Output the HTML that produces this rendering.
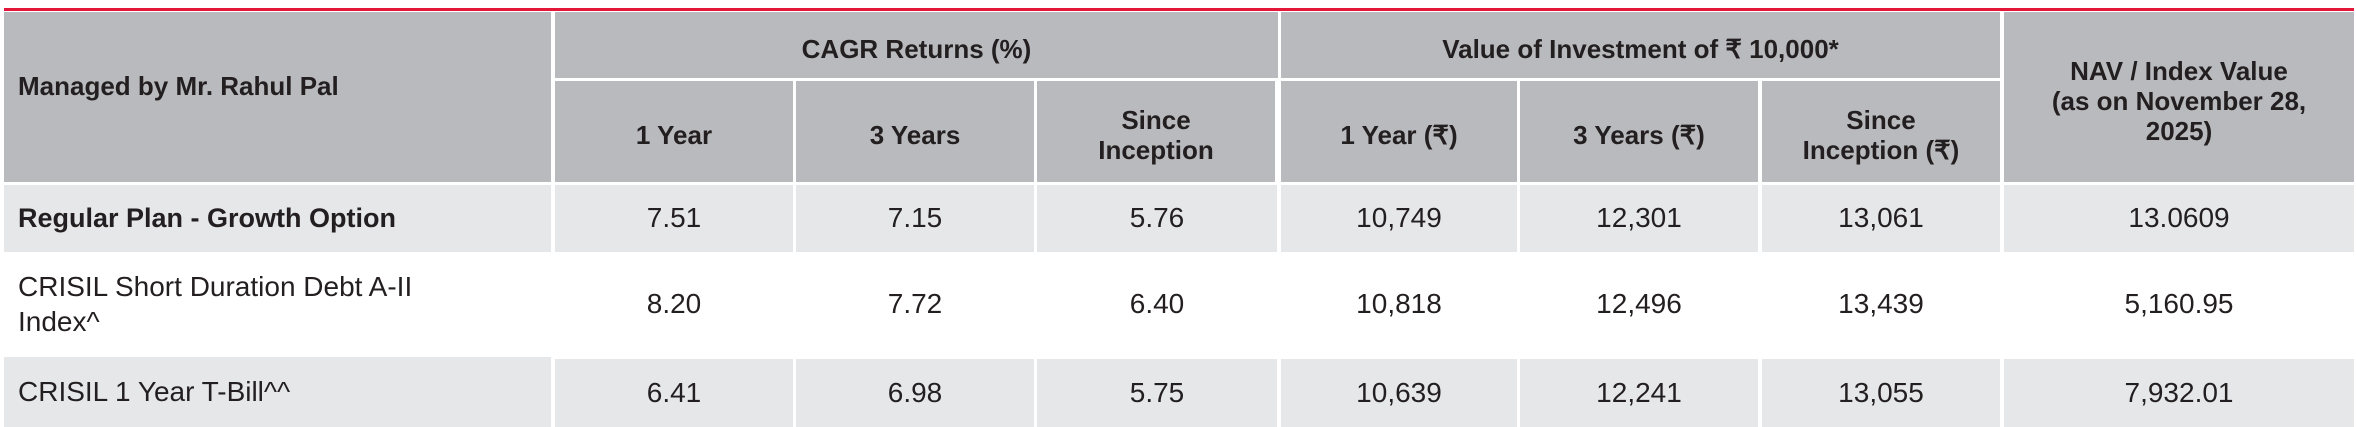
<!DOCTYPE html>
<html><head><meta charset="utf-8"><style>
body{margin:0;width:2356px;height:427px;background:#fff;position:relative;overflow:hidden;font-family:"Liberation Sans",sans-serif;color:#231f20}
.c{position:absolute;display:flex;align-items:center;justify-content:center;text-align:center;box-sizing:border-box;line-height:1.15}
.h{background:#b9babd;font-weight:bold;font-size:26px}
.g{background:#e6e7e8}
.d{font-size:28px}
.l{justify-content:flex-start;text-align:left;padding-left:14px}
</style></head><body>
<div style="position:absolute;left:4px;top:8px;width:2350px;height:3px;background:#e3173a"></div>
<div class="c h l" style="left:4px;top:12px;width:547px;height:150px">Managed by Mr. Rahul Pal</div>
<div class="c h" style="left:4px;top:160px;width:547px;height:22px"></div>
<div class="c h" style="left:555px;top:12px;width:723px;height:66px;padding-top:10px">CAGR Returns (%)</div>
<div class="c h" style="left:1281px;top:12px;width:719px;height:66px;padding-top:10px">Value of Investment of ₹ 10,000*</div>
<div class="c h" style="left:2004px;top:12px;width:350px;height:170px;padding-top:10px">NAV / Index Value<br>(as on November 28,<br>2025)</div>
<div class="c h" style="left:555px;top:81px;width:238px;height:101px;padding-top:8px">1 Year</div>
<div class="c h" style="left:796px;top:81px;width:238px;height:101px;padding-top:8px">3 Years</div>
<div class="c h" style="left:1037px;top:81px;width:238px;height:101px;padding-top:8px">Since<br>Inception</div>
<div class="c h" style="left:1281px;top:81px;width:236px;height:101px;padding-top:8px">1 Year (₹)</div>
<div class="c h" style="left:1520px;top:81px;width:238px;height:101px;padding-top:8px">3 Years (₹)</div>
<div class="c h" style="left:1762px;top:81px;width:238px;height:101px;padding-top:8px">Since<br>Inception (₹)</div>

<div class="c g d l" style="left:4px;top:185px;width:547px;height:67px;font-weight:bold;font-size:27px">Regular Plan - Growth Option</div>
<div class="c g d" style="left:555px;top:185px;width:238px;height:67px">7.51</div>
<div class="c g d" style="left:796px;top:185px;width:238px;height:67px">7.15</div>
<div class="c g d" style="left:1037px;top:185px;width:240px;height:67px">5.76</div>
<div class="c g d" style="left:1281px;top:185px;width:236px;height:67px">10,749</div>
<div class="c g d" style="left:1520px;top:185px;width:238px;height:67px">12,301</div>
<div class="c g d" style="left:1762px;top:185px;width:238px;height:67px">13,061</div>
<div class="c g d" style="left:2004px;top:185px;width:350px;height:67px">13.0609</div>

<div class="c d l" style="left:4px;top:252px;width:547px;height:104px;line-height:1.25">CRISIL Short Duration Debt A-II<br>Index^</div>
<div class="c d" style="left:555px;top:252px;width:238px;height:104px">8.20</div>
<div class="c d" style="left:796px;top:252px;width:238px;height:104px">7.72</div>
<div class="c d" style="left:1037px;top:252px;width:240px;height:104px">6.40</div>
<div class="c d" style="left:1281px;top:252px;width:236px;height:104px">10,818</div>
<div class="c d" style="left:1520px;top:252px;width:238px;height:104px">12,496</div>
<div class="c d" style="left:1762px;top:252px;width:238px;height:104px">13,439</div>
<div class="c d" style="left:2004px;top:252px;width:350px;height:104px">5,160.95</div>

<div class="c g d l" style="left:4px;top:357px;width:547px;height:70px">CRISIL 1 Year T-Bill^^</div>
<div class="c g d" style="left:555px;top:359px;width:238px;height:68px">6.41</div>
<div class="c g d" style="left:796px;top:359px;width:238px;height:68px">6.98</div>
<div class="c g d" style="left:1037px;top:359px;width:240px;height:68px">5.75</div>
<div class="c g d" style="left:1281px;top:359px;width:236px;height:68px">10,639</div>
<div class="c g d" style="left:1520px;top:359px;width:238px;height:68px">12,241</div>
<div class="c g d" style="left:1762px;top:359px;width:238px;height:68px">13,055</div>
<div class="c g d" style="left:2004px;top:359px;width:350px;height:68px">7,932.01</div>
</body></html>
